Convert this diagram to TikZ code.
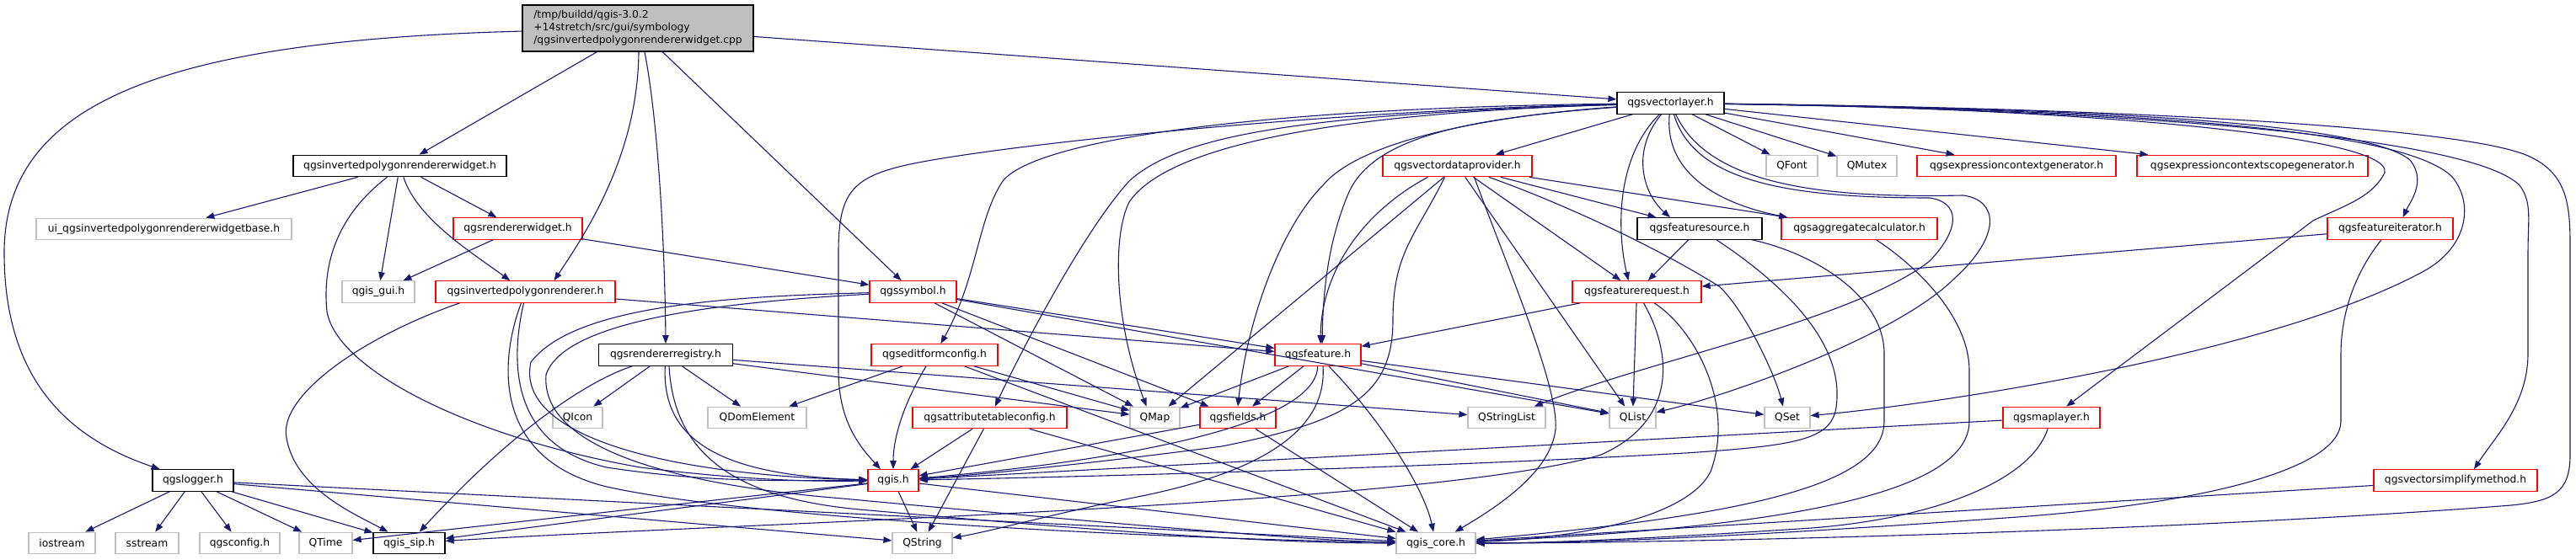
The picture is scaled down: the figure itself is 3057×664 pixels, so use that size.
\documentclass[tikz,border=0pt]{standalone}
\usepackage{fontspec}
\newfontfamily\dvs{DejaVu Sans}
\usetikzlibrary{arrows.meta}
\definecolor{edgec}{HTML}{191970}
\definecolor{extc}{HTML}{BFBFBF}
\definecolor{mainfill}{HTML}{BFBFBF}
\definecolor{truncc}{HTML}{FF0000}
\tikzset{
  box/.style={draw, line width=1.2pt, minimum height=25.5pt, inner sep=0pt, fill=white, font={\dvs\fontsize{12.3}{15}\selectfont}},
  doc/.style={box, draw=black},
  trunc/.style={box, draw=truncc},
  ext/.style={box, draw=extc},
  dep/.style={draw=edgec, line width=1.1pt, -{Triangle[length=10pt,width=7.5pt]}}
}
\begin{document}
\begin{tikzpicture}[x=1pt,y=-1pt]
\fill[white] (0,0) rectangle (3057,664);
\useasboundingbox (0,0) rectangle (3057,664);
% nodes
\node[doc, fill=mainfill, minimum width=274pt, minimum height=55pt, align=left] (main) at (757,33.5) {/tmp/buildd/qgis-3.0.2\\+14stretch/src/gui/symbology\\/qgsinvertedpolygonrendererwidget.cpp};
\node[doc, minimum width=253pt] (iprw) at (474.5,197) {qgsinvertedpolygonrendererwidget.h};
\node[ext, minimum width=303pt] (ui) at (194.5,272) {ui\_qgsinvertedpolygonrendererwidgetbase.h};
\node[trunc, minimum width=153pt] (rw) at (614.5,271.5) {qgsrendererwidget.h};
\node[ext, minimum width=86pt] (gui) at (449,346.5) {qgis\_gui.h};
\node[trunc, minimum width=213pt] (ipr) at (623.5,346.5) {qgsinvertedpolygonrenderer.h};
\node[doc, minimum width=159pt] (reg) at (790,421.5) {qgsrendererregistry.h};
\node[ext, minimum width=59pt] (qicon) at (685.5,496) {QIcon};
\node[ext, minimum width=117pt] (qdom) at (898.5,496) {QDomElement};
\node[doc, minimum width=96pt] (logger) at (229,570.5) {qgslogger.h};
\node[ext, minimum width=79pt] (iostream) at (73.5,645) {iostream};
\node[ext, minimum width=75pt] (sstream) at (174.5,645) {sstream};
\node[ext, minimum width=95pt] (qcfg) at (284.5,645) {qgsconfig.h};
\node[ext, minimum width=63pt] (qtime) at (386.5,645) {QTime};
\node[doc, minimum width=85pt] (sip) at (485.5,645) {qgis\_sip.h};
\node[doc, minimum width=127pt] (vl) at (1982.5,122.5) {qgsvectorlayer.h};
\node[trunc, minimum width=177pt] (vdp) at (1729.5,197) {qgsvectordataprovider.h};
\node[doc, minimum width=148pt] (fs) at (2017,271.5) {qgsfeaturesource.h};
\node[trunc, minimum width=185pt] (agg) at (2206.5,271.5) {qgsaggregatecalculator.h};
\node[trunc, minimum width=149pt] (fi) at (2836.5,271.5) {qgsfeatureiterator.h};
\node[ext, minimum width=61pt] (qfont) at (2126.5,197) {QFont};
\node[ext, minimum width=71pt] (qmutex) at (2215.5,197) {QMutex};
\node[trunc, minimum width=236pt] (ecg) at (2393,197) {qgsexpressioncontextgenerator.h};
\node[trunc, minimum width=274pt] (ecsg) at (2673,197) {qgsexpressioncontextscopegenerator.h};
\node[trunc, minimum width=103pt] (sym) at (1083.5,346.5) {qgssymbol.h};
\node[trunc, minimum width=153pt] (fr) at (1942.5,346.5) {qgsfeaturerequest.h};
\node[trunc, minimum width=150pt] (efc) at (1109,421.5) {qgseditformconfig.h};
\node[trunc, minimum width=102pt] (feat) at (1564,421.5) {qgsfeature.h};
\node[trunc, minimum width=183pt] (atc) at (1174.5,496) {qgsattributetableconfig.h};
\node[ext, minimum width=59pt] (qmap) at (1370.5,496) {QMap};
\node[trunc, minimum width=90pt] (fields) at (1469,496) {qgsfields.h};
\node[ext, minimum width=92pt] (qsl) at (1788,496) {QStringList};
\node[ext, minimum width=55pt] (qlist) at (1937.5,496) {QList};
\node[ext, minimum width=54pt] (qset) at (2121,496) {QSet};
\node[trunc, minimum width=115pt] (ml) at (2434.5,496) {qgsmaplayer.h};
\node[trunc, minimum width=60pt] (qgis) at (1060,570.5) {qgis.h};
\node[trunc, minimum width=194pt] (vsm) at (2914,570.5) {qgsvectorsimplifymethod.h};
\node[ext, minimum width=71pt] (qstring) at (1094.5,645) {QString};
\node[ext, minimum width=94pt] (core) at (1704,645) {qgis\_core.h};
% main
\draw[dep] (main) .. controls (200,48) and (5,120) .. (5,300) .. controls (5,450) and (80,520) .. (logger);
\draw[dep] (main) -- (iprw);
\draw[dep] ([xshift=1pt]main.south) .. controls (757,180) and (700,270) .. ([xshift=34pt]ipr.north);
\draw[dep] ([xshift=8pt]main.south) .. controls (782,150) and (789,300) .. (reg.north);
\draw[dep] (main) -- (sym);
\draw[dep] (main) -- (vl);
% iprw
\draw[dep] (iprw) -- (ui);
\draw[dep] (iprw) -- (gui);
\draw[dep] (iprw) -- (rw);
\draw[dep] (iprw) .. controls (495,260) and (560,300) .. (ipr);
\draw[dep] ([xshift=-15pt]iprw.south) .. controls (395,260) and (383,320) .. (388,370) .. controls (400,440) and (560,520) .. (760,555) .. controls (880,570) and (960,572) .. (qgis);
% rw
\draw[dep] (rw) -- (gui);
\draw[dep] (rw) -- (sym);
% ipr
\draw[dep] ([xshift=-78pt]ipr.south) .. controls (430,400) and (330,470) .. (340,520) .. controls (350,580) and (420,610) .. (sip);
\draw[dep] ([xshift=-5pt]ipr.south) .. controls (592,430) and (585,545) .. (720,578) .. controls (900,618) and (1400,640) .. (core);
\draw[dep] ([xshift=-2pt]ipr.south) .. controls (603,440) and (612,530) .. (720,555) .. controls (850,575) and (950,570) .. (qgis);
\draw[dep] (ipr) -- (feat);
% reg
\draw[dep] (reg) -- (qicon);
\draw[dep] (reg) -- (qdom);
\draw[dep] (reg) .. controls (690,455) and (600,520) .. (sip);
\draw[dep] (reg) .. controls (785,520) and (850,565) .. (qgis);
\draw[dep] ([xshift=4pt]reg.south) .. controls (800,545) and (880,592) .. (1020,605) .. controls (1300,630) and (1500,645) .. (core);
\draw[dep] (reg) -- (qmap);
\draw[dep] (reg) -- (qsl);
% sym
\draw[dep] (sym) -- (qmap);
\draw[dep] (sym) -- (fields);
\draw[dep] (sym) -- (feat);
\draw[dep] (sym) -- (qlist);
\draw[dep] (sym) .. controls (850,352) and (680,365) .. (630,430) .. controls (610,520) and (800,565) .. (qgis);
\draw[dep] (sym) .. controls (870,358) and (670,378) .. (648,445) .. controls (640,545) and (850,580) .. (1000,592) .. controls (1300,620) and (1550,642) .. (core);
% logger
\draw[dep] (logger) -- (iostream);
\draw[dep] (logger) -- (sstream);
\draw[dep] (logger) -- (qcfg);
\draw[dep] (logger) -- (qtime);
\draw[dep] (logger) -- (sip);
\draw[dep] (logger) -- (qstring);
\draw[dep] (logger) -- (core);
% qgis
\draw[dep] (qgis) -- (qtime);
\draw[dep] (qgis) -- (sip);
\draw[dep] (qgis) -- (qstring);
\draw[dep] (qgis) -- (core);
% efc
\draw[dep] (efc) -- (qdom);
\draw[dep] ([xshift=-10pt]efc.south) .. controls (1072,480) and (1060,520) .. (qgis.north);
\draw[dep] (efc) -- (qmap);
\draw[dep] (efc) -- (core);
% atc
\draw[dep] (atc) -- (qgis);
\draw[dep] (atc) -- (qstring);
\draw[dep] (atc) -- (core);
% fields
\draw[dep] (fields) -- (qgis);
\draw[dep] (fields) -- (core);
% feat
\draw[dep] (feat) -- (qmap);
\draw[dep] (feat) -- (fields);
\draw[dep] (feat) .. controls (1562,510) and (1300,550) .. (qgis);
\draw[dep] ([xshift=6pt]feat.south) .. controls (1575,510) and (1500,560) .. (1350,590) .. controls (1250,610) and (1180,630) .. (qstring);
\draw[dep] (feat) .. controls (1640,500) and (1690,580) .. (core);
\draw[dep] (feat) -- (qlist);
\draw[dep] (feat) -- (qset);
% vdp
\draw[dep] ([xshift=-35pt]vdp.south) .. controls (1620,250) and (1568,320) .. ([xshift=3pt]feat.north);
\draw[dep] (vdp) -- (qmap);
\draw[dep] ([xshift=-15pt]vdp.south) .. controls (1680,280) and (1653,300) .. (1653,380) .. controls (1653,470) and (1600,500) .. (1450,530) .. controls (1300,550) and (1150,565) .. (qgis);
\draw[dep] (vdp) -- (qlist);
\draw[dep] ([xshift=20pt]vdp.south) .. controls (1790,320) and (1850,460) .. (1846,510) .. controls (1840,560) and (1780,600) .. (core);
\draw[dep] (vdp) -- (fr);
\draw[dep] (vdp) -- (fs);
\draw[dep] (vdp) -- (agg);
\draw[dep] (vdp) .. controls (1850,240) and (1960,290) .. (2040,340) .. controls (2068,365) and (2105,440) .. ([xshift=-5pt]qset.north);
% fs
\draw[dep] (fs) -- (fr);
\draw[dep] (fs) .. controls (2090,320) and (2182,390) .. (2180,470) .. controls (2180,520) and (2150,528) .. (2000,538) .. controls (1700,555) and (1300,566) .. (qgis);
\draw[dep] (fs) .. controls (2150,300) and (2236,350) .. (2236,420) -- (2236,500) .. controls (2236,570) and (2100,610) .. (core);
% agg
\draw[dep] (agg) .. controls (2280,320) and (2337,380) .. (2337,440) -- (2337,500) .. controls (2337,580) and (2150,625) .. (core);
% fr
\draw[dep] (fr) -- (feat);
\draw[dep] (fr) -- (qlist);
\draw[dep] (fr) .. controls (2010,390) and (2060,480) .. (2030,560) .. controls (2000,620) and (1850,640) .. (core);
\draw[dep] ([xshift=8pt]fr.south) .. controls (1985,420) and (1990,500) .. (1900,540) .. controls (1700,600) and (900,620) .. (sip);
% fi
\draw[dep] (fi) -- (fr);
\draw[dep] (fi) .. controls (2790,330) and (2778,380) .. (2778,420) -- (2778,500) .. controls (2778,560) and (2600,600) .. (2380,615) .. controls (2100,635) and (1900,645) .. (core);
% ml
\draw[dep] (ml) -- (qgis);
\draw[dep] (ml) .. controls (2410,570) and (2300,615) .. (2150,627) .. controls (2000,637) and (1850,645) .. (core);
% vsm
\draw[dep] (vsm) -- (core);
% vl
\draw[dep] (vl) .. controls (1600,130) and (1200,170) .. (1080,195) .. controls (1010,210) and (995,230) .. (995,300) -- (995,440) .. controls (995,500) and (1020,530) .. ([xshift=-15pt]qgis.north);
\draw[dep] (vl) .. controls (1500,128) and (1230,165) .. (1190,215) .. controls (1160,260) and (1160,330) .. (efc);
\draw[dep] (vl) .. controls (1550,135) and (1400,160) .. (1340,215) .. controls (1290,270) and (1220,400) .. (atc);
\draw[dep] (vl) .. controls (1550,135) and (1380,180) .. (1340,240) .. controls (1320,280) and (1322,380) .. ([xshift=-10pt]qmap.north);
\draw[dep] (vl) .. controls (1800,135) and (1620,160) .. (1570,220) .. controls (1520,270) and (1480,380) .. (fields.north);
\draw[dep] (vl) .. controls (1750,140) and (1630,160) .. (1600,230) .. controls (1575,290) and (1570,350) .. ([xshift=5pt]feat.north);
\draw[dep] (vl) -- (vdp);
\draw[dep] (vl) .. controls (1935,180) and (1950,230) .. ([xshift=-35pt]fs.north);
\draw[dep] (vl) .. controls (1915,190) and (1920,280) .. ([xshift=-10pt]fr.north);
\draw[dep] (vl) .. controls (1975,200) and (2030,240) .. ([xshift=-85pt]agg.north);
\draw[dep] (vl) -- (qfont);
\draw[dep] (vl) -- (qmutex);
\draw[dep] (vl) -- (ecg);
\draw[dep] (vl) -- (ecsg);
\draw[dep] (vl) .. controls (2400,128) and (2800,140) .. (2860,190) .. controls (2880,215) and (2860,240) .. ([xshift=15pt]fi.north);
\draw[dep] (vl) .. controls (2010,215) and (2120,235) .. (2290,235) .. controls (2325,240) and (2328,270) .. (2290,310) .. controls (2200,380) and (1950,430) .. (qsl);
\draw[dep] (vl) .. controls (2030,225) and (2180,235) .. (2330,232) .. controls (2372,238) and (2375,280) .. (2320,330) .. controls (2250,400) and (2050,470) .. (qlist);
\draw[dep] (vl) .. controls (2500,130) and (2850,150) .. (2910,210) .. controls (2935,240) and (2930,290) .. (2880,320) .. controls (2700,420) and (2300,480) .. (qset);
\draw[dep] (vl) .. controls (2450,128) and (2840,160) .. (2830,205) .. controls (2815,235) and (2780,245) .. (2745,262) -- (ml);
\draw[dep] (vl) .. controls (2500,130) and (2930,160) .. (2990,220) .. controls (3005,240) and (3000,260) .. (3000,300) -- (3000,420) .. controls (3000,480) and (2960,520) .. ([xshift=22pt]vsm.north);
\draw[dep] (vl) .. controls (2500,128) and (2920,150) .. (3000,185) .. controls (3045,205) and (3050,240) .. (3050,290) -- (3050,540) .. controls (3050,585) and (3030,595) .. (2980,600) .. controls (2600,630) and (2000,645) .. (core);
\end{tikzpicture}
\end{document}
